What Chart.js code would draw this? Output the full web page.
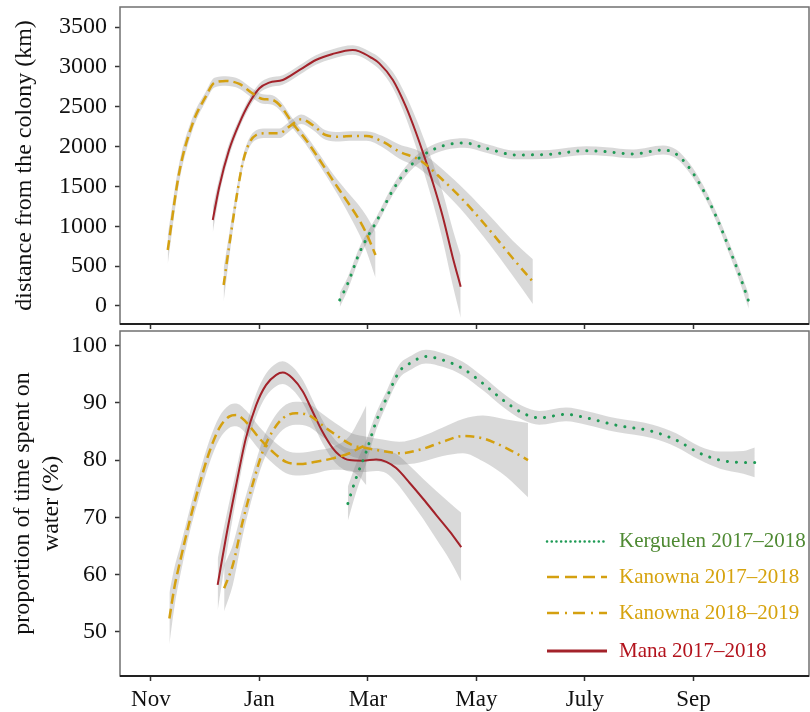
<!DOCTYPE html>
<html lang="en">
<head>
  <meta charset="UTF-8" />
  <title>Distance from colony and time on water</title>
  <script src="https://cdn.jsdelivr.net/npm/chart.js"></script>
  <style>
    body { margin: 0; background: #fff; width: 810px; height: 712px; position: relative; overflow: hidden; }
    canvas { position: absolute; left: 0; }
    #distChart { top: 0; }
    #waterChart { top: 324px; }
  </style>
</head>
<body>
  <canvas id="distChart" width="810" height="330"></canvas>
  <canvas id="waterChart" width="810" height="388"></canvas>

  <script>
    // x values are months counted from 1 Nov
    const monthTicks = [0, 2, 4, 6, 8, 10];
    const monthLabels = ['Nov', 'Jan', 'Mar', 'May', 'July', 'Sep'];
    const distTicks = [0, 500, 1000, 1500, 2000, 2500, 3000, 3500];
    const waterTicks = [50, 60, 70, 80, 90, 100];

    const seriesNames = ['Kerguelen 2017–2018', 'Kanowna 2017–2018', 'Kanowna 2018–2019', 'Mana 2017–2018'];
    const lineColors = ['#1e9a55', '#d4a010', '#d4a010', '#a3222a'];
    const textColors = ['#4f8a33', '#d6a30e', '#d6a30e', '#b3121c'];

    // top panel: distance from the colony (km)
    const kergDistX = [3.48, 3.63, 3.84, 4.03, 4.15, 4.46, 4.77, 5.07, 5.44, 5.78, 6.18, 6.73, 7.35, 8.02, 8.39, 8.89, 9.44, 9.68, 9.93, 10.18, 10.42, 10.67, 10.86, 11.02];
    const kergDistY = [75, 285, 661, 912, 1050, 1455, 1748, 1915, 2020, 2045, 1978, 1895, 1903, 1948, 1936, 1907, 1957, 1907, 1727, 1455, 1120, 703, 368, 54];
    const kergDistCI = [90, 80, 70, 60, 60, 60, 60, 60, 60, 60, 55, 55, 55, 55, 55, 55, 55, 55, 60, 60, 60, 70, 80, 90];

    const kan17DistX = [0.31, 0.52, 0.77, 1.01, 1.17, 1.38, 1.63, 1.87, 2.06, 2.24, 2.40, 2.61, 2.86, 3.11, 3.35, 3.60, 3.84, 3.97, 4.14];
    const kan17DistY = [703, 1669, 2292, 2626, 2802, 2823, 2786, 2669, 2597, 2585, 2500, 2292, 2083, 1832, 1581, 1330, 1079, 912, 640];
    const kan17DistCI = [180, 120, 80, 60, 60, 60, 60, 60, 60, 60, 60, 60, 60, 70, 80, 120, 180, 220, 290];

    const kan18DistX = [1.34, 1.44, 1.57, 1.69, 1.81, 1.94, 2.12, 2.37, 2.55, 2.77, 2.98, 3.22, 3.47, 3.72, 3.97, 4.27, 4.58, 4.95, 5.38, 5.81, 6.24, 6.67, 7.04];
    const kan18DistY = [263, 744, 1330, 1790, 2041, 2145, 2167, 2167, 2250, 2342, 2271, 2145, 2124, 2133, 2133, 2062, 1936, 1832, 1581, 1289, 954, 598, 305];
    const kan18DistCI = [210, 150, 100, 70, 60, 60, 60, 60, 60, 60, 60, 60, 60, 60, 60, 70, 90, 110, 130, 150, 180, 220, 280];

    const manaDistX = [1.14, 1.26, 1.44, 1.63, 1.81, 2.00, 2.18, 2.43, 2.74, 3.04, 3.35, 3.72, 3.84, 4.05, 4.21, 4.46, 4.70, 4.89, 5.04, 5.20, 5.38, 5.56, 5.71];
    const manaDistY = [1079, 1497, 1957, 2292, 2543, 2731, 2802, 2835, 2961, 3086, 3162, 3212, 3195, 3120, 3044, 2835, 2500, 2167, 1873, 1539, 1120, 619, 242];
    const manaDistCI = [160, 110, 80, 60, 60, 60, 60, 60, 60, 60, 60, 60, 60, 65, 75, 100, 140, 180, 210, 250, 300, 350, 390];

    // bottom panel: proportion of time spent on water (%)
    const kergWaterX = [3.63, 3.78, 3.97, 4.15, 4.34, 4.58, 4.77, 5.07, 5.38, 5.75, 6.12, 6.49, 6.86, 7.16, 7.65, 8.02, 8.58, 9.25, 9.68, 10.12, 10.49, 10.92, 11.13];
    const kergWaterY = [72.4, 76.8, 81.5, 86.7, 90.8, 95.5, 96.9, 98.1, 97.5, 96.0, 93.4, 90.5, 88.2, 87.4, 88.0, 87.4, 86.1, 85.0, 83.5, 81.2, 80.0, 79.6, 79.6];
    const kergWaterCI = [3, 2.5, 2, 1.5, 1.2, 1.2, 1.2, 1.2, 1.2, 1.2, 1.2, 1.2, 1.2, 1.2, 1.2, 1.2, 1.2, 1.2, 1.2, 1.2, 1.5, 2, 2.6];

    const kan17WaterX = [0.34, 0.43, 0.55, 0.71, 0.89, 1.08, 1.26, 1.44, 1.57, 1.75, 2.00, 2.24, 2.49, 2.74, 3.04, 3.35, 3.66, 3.84, 3.97];
    const kan17WaterY = [52.3, 57.6, 62.8, 69.2, 75.6, 81.5, 85.6, 87.6, 87.9, 86.7, 83.8, 81.5, 79.7, 79.3, 79.7, 80.3, 81.2, 82.1, 82.6];
    const kan17WaterCI = [4.5, 3.5, 2.5, 2, 2, 2, 2, 2, 2, 2, 2, 2, 2, 2, 2, 2, 3, 5, 7];

    const kan18WaterX = [1.35, 1.51, 1.69, 1.87, 2.06, 2.24, 2.43, 2.67, 2.92, 3.16, 3.41, 3.72, 3.97, 4.27, 4.58, 4.95, 5.38, 5.75, 6.12, 6.55, 6.95];
    const kan18WaterY = [57.6, 61.7, 69.2, 75.6, 81.5, 85.0, 87.3, 88.2, 87.8, 86.1, 84.4, 82.6, 82.1, 81.6, 81.2, 81.8, 83.2, 84.2, 83.8, 82.1, 80.0];
    const kan18WaterCI = [4, 3.5, 2.5, 2, 2, 2, 2, 2, 2, 2, 2, 2, 2, 2, 2, 2.2, 2.5, 3, 4, 5, 6.5];

    const manaWaterX = [1.23, 1.38, 1.57, 1.75, 1.94, 2.12, 2.31, 2.43, 2.61, 2.80, 2.98, 3.16, 3.35, 3.47, 3.66, 3.91, 4.15, 4.34, 4.52, 4.77, 5.02, 5.26, 5.51, 5.72];
    const manaWaterY = [58.2, 66.3, 75.6, 83.8, 89.6, 93.1, 94.9, 95.3, 94.3, 92.0, 88.5, 85.0, 82.1, 80.9, 80.0, 79.9, 80.1, 79.7, 78.6, 76.0, 73.2, 70.4, 67.5, 64.8];
    const manaWaterCI = [4.5, 3.5, 2.5, 2, 2, 2, 2, 2, 2, 2, 2, 2, 2, 2, 2, 2, 2, 2, 2.5, 3, 3.5, 4.2, 5, 6];

    const lineDash = [[0.1, 9], [10, 5], [9, 5, 2, 5], []];
    const lineWidth = [3, 2.5, 2.5, 2];
    const legendDash = [[0.1, 4.6], [12, 6], [12, 6, 2, 6], []];

    Chart.defaults.font.family = "'Liberation Serif', 'DejaVu Serif', serif";
    Chart.defaults.color = '#111';

    const pts = (xs, ys) => xs.map((x, i) => ({ x: x, y: ys[i] }));

    function seriesDatasets(idx, xs, ys, ci) {
      return [
        { data: pts(xs, ys.map((y, i) => y - ci[i])), borderWidth: 0, pointRadius: 0, fill: false, order: 5, cubicInterpolationMode: 'monotone' },
        { data: pts(xs, ys.map((y, i) => y + ci[i])), borderWidth: 0, pointRadius: 0, fill: '-1', backgroundColor: 'rgba(128,128,128,0.3)', order: 5, cubicInterpolationMode: 'monotone' },
        {
          label: seriesNames[idx],
          data: pts(xs, ys),
          borderColor: lineColors[idx],
          borderWidth: lineWidth[idx],
          borderDash: lineDash[idx],
          borderCapStyle: idx === 0 ? 'round' : 'butt',
          pointRadius: 0,
          fill: false,
          order: 1,
          cubicInterpolationMode: 'monotone'
        }
      ];
    }

    const panelBox = {
      id: 'panelBox',
      afterDraw(chart) {
        const { ctx, chartArea: a } = chart;
        ctx.save();
        ctx.strokeStyle = '#707070';
        ctx.lineWidth = 1.5;
        ctx.strokeRect(a.left, a.top, a.right - a.left, a.bottom - a.top);
        ctx.strokeStyle = '#222';
        ctx.lineWidth = 2;
        ctx.beginPath();
        ctx.moveTo(a.left, a.bottom);
        ctx.lineTo(a.right, a.bottom);
        ctx.stroke();
        ctx.restore();
      }
    };

    const lineLegend = {
      id: 'lineLegend',
      afterDraw(chart) {
        const ctx = chart.ctx;
        const rows = [217.5, 253, 289, 327];
        ctx.save();
        ctx.font = "21px 'Liberation Serif'";
        ctx.textBaseline = 'middle';
        seriesNames.forEach((name, i) => {
          ctx.strokeStyle = lineColors[i];
          ctx.lineWidth = i === 3 ? 3 : 2.5;
          ctx.lineCap = i === 0 ? 'round' : 'butt';
          ctx.setLineDash(legendDash[i]);
          ctx.beginPath();
          ctx.moveTo(547, rows[i]);
          ctx.lineTo(607, rows[i]);
          ctx.stroke();
          ctx.fillStyle = textColors[i];
          ctx.fillText(name, 619, rows[i]);
        });
        ctx.restore();
      }
    };

    function panelOptions(opts) {
      return {
        responsive: false,
        animation: false,
        layout: { padding: { top: 7, right: 1, left: 0, bottom: 0 } },
        plugins: { legend: { display: false }, tooltip: { enabled: false } },
        scales: {
          x: {
            type: 'linear',
            min: -0.57,
            max: 12.13,
            afterBuildTicks: s => { s.ticks = monthTicks.map(v => ({ value: v })); },
            afterFit: s => { s.height = opts.xHeight; s.paddingLeft = 0; s.paddingRight = 0; },
            border: { display: false },
            grid: { drawOnChartArea: false, tickLength: 5, tickColor: '#333', tickWidth: 1.5 },
            ticks: {
              display: opts.showMonths,
              padding: 5,
              font: { size: 23 },
              callback: v => monthLabels[monthTicks.indexOf(v)]
            }
          },
          y: {
            min: opts.yMin,
            max: opts.yMax,
            afterBuildTicks: s => { s.ticks = opts.yTicks.map(v => ({ value: v })); },
            afterFit: s => { s.width = 120; s.paddingTop = 0; s.paddingBottom = 0; },
            border: { display: false },
            grid: { drawOnChartArea: false, tickLength: 5, tickColor: '#333', tickWidth: 1.5 },
            ticks: { padding: 8, font: { size: 24 }, callback: v => String(v) },
            title: {
              display: true,
              text: opts.title,
              font: { size: 24, lineHeight: 1.2 },
              padding: { top: opts.titlePad, bottom: 0 }
            }
          }
        }
      };
    }

    new Chart(document.getElementById('distChart'), {
      type: 'line',
      data: {
        datasets: [
          ...seriesDatasets(0, kergDistX, kergDistY, kergDistCI),
          ...seriesDatasets(1, kan17DistX, kan17DistY, kan17DistCI),
          ...seriesDatasets(2, kan18DistX, kan18DistY, kan18DistCI),
          ...seriesDatasets(3, manaDistX, manaDistY, manaDistCI)
        ]
      },
      options: panelOptions({
        xHeight: 6, showMonths: false, yMin: -226, yMax: 3751, yTicks: distTicks,
        title: 'distance from the colony (km)', titlePad: 10.6
      }),
      plugins: [panelBox]
    });

    new Chart(document.getElementById('waterChart'), {
      type: 'line',
      data: {
        datasets: [
          ...seriesDatasets(0, kergWaterX, kergWaterY, kergWaterCI),
          ...seriesDatasets(1, kan17WaterX, kan17WaterY, kan17WaterCI),
          ...seriesDatasets(2, kan18WaterX, kan18WaterY, kan18WaterCI),
          ...seriesDatasets(3, manaWaterX, manaWaterY, manaWaterCI)
        ]
      },
      options: panelOptions({
        xHeight: 36, showMonths: true, yMin: 42.26, yMax: 102.57, yTicks: waterTicks,
        title: ['proportion of time spent on', 'water (%)'], titlePad: 8.6
      }),
      plugins: [panelBox, lineLegend]
    });
  </script>
</body>
</html>
